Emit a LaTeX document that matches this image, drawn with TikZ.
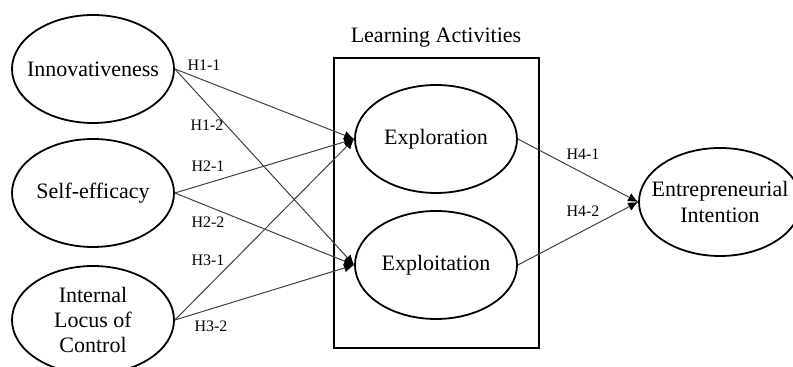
\documentclass[tikz,border=0pt]{standalone}
\usepackage{fontspec}
\setmainfont{Liberation Serif}
\usetikzlibrary{shapes.geometric, arrows.meta}

\begin{document}
\begin{tikzpicture}[x=0.5pt,y=-0.5pt,
 construct/.style = {ellipse, draw, line width=0.9pt, minimum width=81pt, minimum height=54pt,
   inner xsep=-14pt, inner ysep=-5pt, align=center, font=\fontsize{11}{12.6}\selectfont},
 frame/.style = {draw, line width=0.9pt, minimum width=102.5pt, minimum height=145pt, inner sep=0pt},
 hyp/.style = {font=\fontsize{8}{9}\selectfont, inner sep=1pt},
 link/.style = {draw=black!75, line width=0.5pt, -{Latex[length=5pt,width=4.5pt,color=black]}},
]
\clip (0,0) rectangle (793,367);

\node (inno)[construct]   at (93,69)   {Innovativeness};
\node (self)[construct]   at (93,193)  {Self-efficacy};
\node (locus)[construct]  at (93,320)  {Internal\\Locus of\\Control};

\node (acts)[frame]       at (436.5,203) {};
\node (title)[font=\fontsize{11}{12.6}\selectfont] at (436,38) {Learning Activities};
\node (explor)[construct] at (436,139) {Exploration};
\node (exploi)[construct] at (436,265) {Exploitation};

\node (intent)[construct] at (720,202) {Entrepreneurial\\Intention};

\path (inno.east)   edge[link] (explor.west)
      (inno.east)   edge[link] (exploi.west)
      (self.east)   edge[link] (explor.west)
      (self.east)   edge[link] (exploi.west)
      (locus.east)  edge[link] (explor.west)
      (locus.east)  edge[link] (exploi.west)
      (explor.east) edge[link] (intent.west)
      (exploi.east) edge[link] (intent.west);

\node (h11)[hyp] at (204,65)  {H1-1};
\node (h12)[hyp] at (207,125) {H1-2};
\node (h21)[hyp] at (208,166) {H2-1};
\node (h22)[hyp] at (208,222) {H2-2};
\node (h31)[hyp] at (208,260) {H3-1};
\node (h32)[hyp] at (211,326) {H3-2};
\node (h41)[hyp] at (583,154) {H4-1};
\node (h42)[hyp] at (583,211) {H4-2};
\end{tikzpicture}
\end{document}
